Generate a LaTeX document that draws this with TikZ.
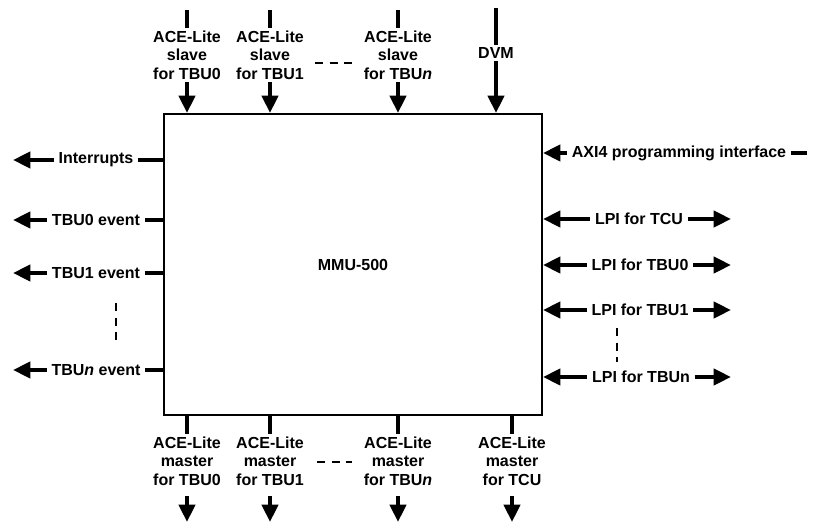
\documentclass[tikz,border=0pt]{standalone}
\usepackage{fontspec}
\setmainfont{Liberation Sans}
\usetikzlibrary{arrows.meta}

\tikzset{
  sig/.style={line width=3pt},
  sigarrow/.style={line width=3pt, -{Triangle[length=13pt,width=12pt]}},
  lbl/.style={font=\fontsize{12}{13.9}\selectfont\bfseries, align=center, inner xsep=3.5pt, inner ysep=2pt},
  gap/.style={line width=1.2pt, dash pattern=on 6pt off 5pt},
}

\begin{document}
\begin{tikzpicture}[x=0.75pt, y=-0.75pt]
    \useasboundingbox (0,0) rectangle (816,523);
    \node[draw, line width=1.5pt, minimum width=283.5pt, minimum height=225.75pt,
          font=\fontsize{12}{13.9}\selectfont\bfseries] (mmu) at (353,264.5) {MMU-500};

    % top: slave ports and DVM
    \node[lbl] (sl0) at (187,55) {ACE-Lite\\slave\\for TBU0};
    \node[lbl] (sl1) at (270,55) {ACE-Lite\\slave\\for TBU1};
    \node[lbl] (sln) at (398,55) {ACE-Lite\\slave\\for TBU\textit{n}};
    \node[lbl] (dvm) at (496,53) {DVM};
    \coordinate (st0) at (187,10);
    \coordinate (st1) at (270,10);
    \coordinate (stn) at (398,10);
    \coordinate (stdvm) at (496,8);
    \draw[sig] (st0) -- (sl0.north);
    \draw[sig] (st1) -- (sl1.north);
    \draw[sig] (stn) -- (sln.north);
    \draw[sig] (stdvm) -- (dvm.north);
    \draw[sigarrow] (sl0.south) -- (sl0.south |- mmu.north);
    \draw[sigarrow] (sl1.south) -- (sl1.south |- mmu.north);
    \draw[sigarrow] (sln.south) -- (sln.south |- mmu.north);
    \draw[sigarrow] (dvm.south) -- (dvm.south |- mmu.north);
    \draw[gap] (315,63) -- (353,63);

    % left: interrupts and events
    \node[lbl] (irq) at (96,160) {Interrupts};
    \node[lbl] (ev0) at (96,220) {TBU0 event};
    \node[lbl] (ev1) at (96,273) {TBU1 event};
    \node[lbl] (evn) at (96,370) {TBU\textit{n} event};
    \coordinate (irqout) at (13,160);
    \coordinate (ev0out) at (13,220);
    \coordinate (ev1out) at (13,273);
    \coordinate (evnout) at (13,370);
    \draw[sig] (irq.east) -- (irq.east -| mmu.west);
    \draw[sig] (ev0.east) -- (ev0.east -| mmu.west);
    \draw[sig] (ev1.east) -- (ev1.east -| mmu.west);
    \draw[sig] (evn.east) -- (evn.east -| mmu.west);
    \draw[sigarrow] (irq.west) -- (irqout);
    \draw[sigarrow] (ev0.west) -- (ev0out);
    \draw[sigarrow] (ev1.west) -- (ev1out);
    \draw[sigarrow] (evn.west) -- (evnout);
    \draw[gap] (116,303) -- (116,340);

    % right: programming interface and LPI
    \node[lbl] (axi) at (679,153) {AXI4 programming interface};
    \coordinate (axiin) at (807,153);
    \draw[sig] (axiin) -- (axi.east);
    \draw[sigarrow] (axi.west) -- (axi.west -| mmu.east);
    \node[lbl] (lpitcu) at (639,219) {LPI for TCU};
    \node[lbl] (lpi0) at (640,265) {LPI for TBU0};
    \node[lbl] (lpi1) at (640,310) {LPI for TBU1};
    \node[lbl] (lpin) at (641,377) {LPI for TBUn};
    \coordinate (lpitcuout) at (731,219);
    \coordinate (lpi0out) at (731,265);
    \coordinate (lpi1out) at (731,310);
    \coordinate (lpinout) at (731,377);
    \draw[sigarrow] (lpitcu.west) -- (lpitcu.west -| mmu.east);
    \draw[sigarrow] (lpi0.west) -- (lpi0.west -| mmu.east);
    \draw[sigarrow] (lpi1.west) -- (lpi1.west -| mmu.east);
    \draw[sigarrow] (lpin.west) -- (lpin.west -| mmu.east);
    \draw[sigarrow] (lpitcu.east) -- (lpitcuout);
    \draw[sigarrow] (lpi0.east) -- (lpi0out);
    \draw[sigarrow] (lpi1.east) -- (lpi1out);
    \draw[sigarrow] (lpin.east) -- (lpinout);
    \draw[gap] (617,328) -- (617,362);

    % bottom: master ports
    \node[lbl] (ms0) at (187,461) {ACE-Lite\\master\\for TBU0};
    \node[lbl] (ms1) at (270,461) {ACE-Lite\\master\\for TBU1};
    \node[lbl] (msn) at (398,461) {ACE-Lite\\master\\for TBU\textit{n}};
    \node[lbl] (mstcu) at (512,461) {ACE-Lite\\master\\for TCU};
    \coordinate (ms0out) at (187,522);
    \coordinate (ms1out) at (270,522);
    \coordinate (msnout) at (398,522);
    \coordinate (mstcuout) at (512,522);
    \draw[sig] (ms0.north |- mmu.south) -- (ms0.north);
    \draw[sig] (ms1.north |- mmu.south) -- (ms1.north);
    \draw[sig] (msn.north |- mmu.south) -- (msn.north);
    \draw[sig] (mstcu.north |- mmu.south) -- (mstcu.north);
    \draw[sigarrow, shorten <=6pt] (ms0.south) -- (ms0out);
    \draw[sigarrow, shorten <=6pt] (ms1.south) -- (ms1out);
    \draw[sigarrow, shorten <=6pt] (msn.south) -- (msnout);
    \draw[sigarrow, shorten <=6pt] (mstcu.south) -- (mstcuout);
    \draw[gap] (317,462) -- (352,462);
\end{tikzpicture}
\end{document}
